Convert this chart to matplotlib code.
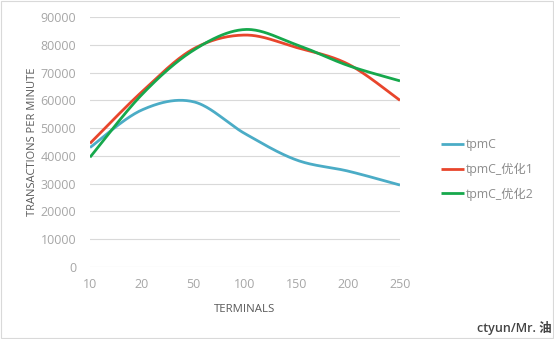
import numpy as np
import matplotlib
matplotlib.use("Agg")
import matplotlib.pyplot as plt
from matplotlib.patches import Rectangle

plt.rcParams['font.family'] = ['Open Sans', 'Noto Sans CJK SC', 'DejaVu Sans']

terminals = ['10', '20', '50', '100', '150', '200', '250']
tpmc = [43000, 56500, 59500, 48000, 38500, 34500, 29500]
tpmc_opt1 = [44500, 63000, 78500, 83500, 79000, 73000, 60000]
tpmc_opt2 = [39500, 62000, 78000, 85500, 80000, 72500, 67000]
series_names = ['tpmC', 'tpmC_优化1', 'tpmC_优化2']
colors = ['#4bacc6', '#e8452c', '#16a84c']


def smooth(xs, ys, n=40):
    # Excel-style smoothed line: cubic bezier with catmull-rom control points
    pts = np.column_stack([xs, ys]).astype(float)
    out = []
    for i in range(len(pts) - 1):
        p0 = pts[i - 1] if i > 0 else pts[i]
        p1, p2 = pts[i], pts[i + 1]
        p3 = pts[i + 2] if i + 2 < len(pts) else pts[i + 1]
        c1 = p1 + (p2 - p0) / 6
        c2 = p2 - (p3 - p1) / 6
        t = np.linspace(0, 1, n)[:, None]
        seg = ((1 - t) ** 3) * p1 + 3 * ((1 - t) ** 2) * t * c1 + 3 * (1 - t) * t ** 2 * c2 + t ** 3 * p2
        out.append(seg if i == 0 else seg[1:])
    seg = np.vstack(out)
    return seg[:, 0], seg[:, 1]


fig = plt.figure(figsize=(5.54, 3.39), dpi=100)
ax = fig.add_axes([90 / 554, 1 - 267 / 339, 310 / 554, 250 / 339])

x = np.arange(len(terminals))
for name, vals, c in zip(series_names, [tpmc, tpmc_opt1, tpmc_opt2], colors):
    sx, sy = smooth(x, vals)
    ax.plot(sx, sy, color=c, lw=2.0, label=name, solid_capstyle='butt')

ax.set_xlim(0, 6)
ax.set_ylim(0, 90000)
ax.set_yticks(range(0, 90001, 10000))
ax.set_xticks(x)
ax.set_xticklabels(terminals)
ax.grid(axis='y', color='#d9d9d9', lw=0.8)
ax.set_axisbelow(True)
for s in ax.spines.values():
    s.set_visible(False)
ax.tick_params(length=0, colors='#a6a6a6', labelsize=9)
ax.tick_params(axis='y', pad=10)
ax.tick_params(axis='x', pad=8)

ax.set_xlabel('TERMINALS', fontsize=8.2, color='#595959', labelpad=9)
ax.set_ylabel('TRANSACTIONS PER MINUTE', fontsize=8, color='#595959', labelpad=2)

leg = fig.legend(loc='upper left', bbox_to_anchor=(430 / 554, 1 - 127 / 339),
                 frameon=False, fontsize=8.8, handlelength=1.9, handletextpad=0.15,
                 labelspacing=0.95, labelcolor='#8c8c8c')

fig.patches.append(Rectangle((0.002, 0.004), 0.996, 0.992, transform=fig.transFigure,
                             fill=False, edgecolor='#d9d9d9', lw=0.8))
fig.text(0.995, 0.012, 'ctyun/Mr. 油', ha='right', va='bottom', fontsize=9,
         fontweight='semibold', color='#444444',
         bbox=dict(facecolor='white', edgecolor='none', pad=1))

fig.savefig('out.png', dpi=100)
